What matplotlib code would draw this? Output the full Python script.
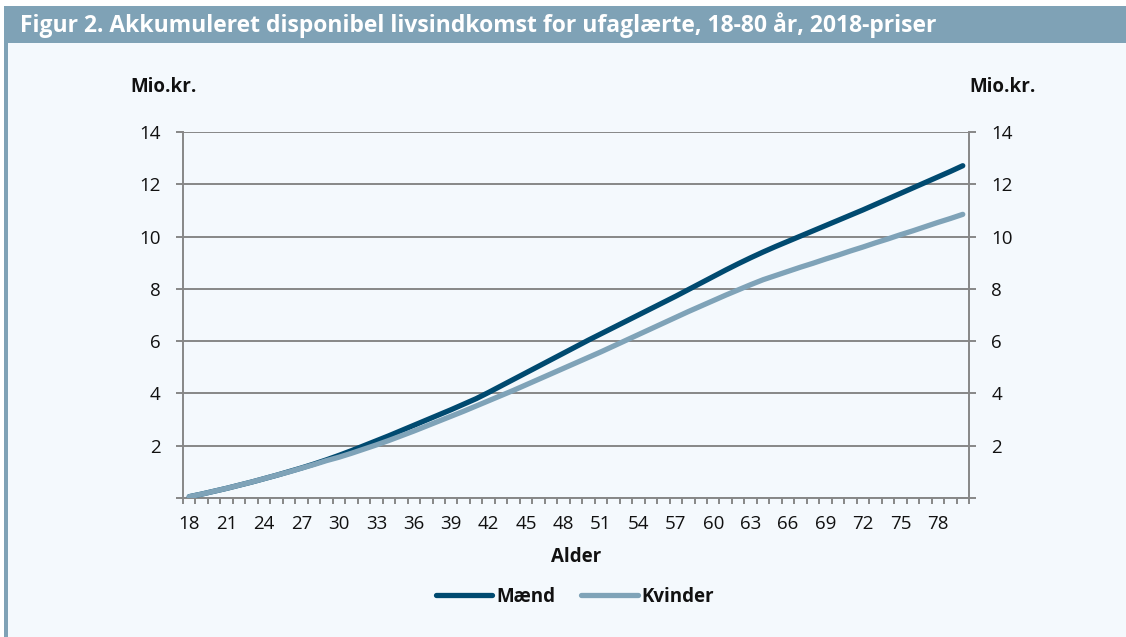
import matplotlib
matplotlib.use("Agg")
import matplotlib.pyplot as plt
from matplotlib.patches import Rectangle
from matplotlib.ticker import FixedLocator, FuncFormatter

plt.rcParams['font.family'] = ['Open Sans', 'DejaVu Sans']

ages = list(range(18, 81))
maend = [0.05, 0.15, 0.26, 0.37, 0.49, 0.61, 0.74, 0.87, 1.01, 1.15,
         1.30, 1.46, 1.63, 1.81, 2.00, 2.19, 2.38, 2.58, 2.78, 2.98,
         3.18, 3.38, 3.59, 3.80, 4.04, 4.29, 4.54, 4.79, 5.04, 5.29,
         5.54, 5.79, 6.04, 6.28, 6.52, 6.76, 7.00, 7.24, 7.48, 7.72,
         7.97, 8.22, 8.47, 8.72, 8.96, 9.19, 9.41, 9.62, 9.82, 10.02,
         10.22, 10.42, 10.62, 10.82, 11.02, 11.23, 11.44, 11.65, 11.86, 12.07,
         12.28, 12.49, 12.71]
kvinder = [0.05, 0.15, 0.26, 0.37, 0.49, 0.61, 0.74, 0.87, 1.00, 1.14,
           1.28, 1.43, 1.56, 1.71, 1.87, 2.03, 2.20, 2.38, 2.56, 2.75,
           2.94, 3.13, 3.32, 3.52, 3.72, 3.92, 4.12, 4.33, 4.54, 4.75,
           4.96, 5.17, 5.38, 5.59, 5.81, 6.03, 6.25, 6.47, 6.69, 6.91,
           7.13, 7.34, 7.55, 7.76, 7.96, 8.16, 8.35, 8.51, 8.67, 8.83,
           8.98, 9.14, 9.29, 9.45, 9.60, 9.76, 9.91, 10.07, 10.22, 10.38,
           10.54, 10.69, 10.85]
series_names = ["Mænd", "Kvinder"]
yticks = [0, 2, 4, 6, 8, 10, 12, 14]
title = "Figur 2. Akkumuleret disponibel livsindkomst for ufaglærte, 18-80 år, 2018-priser"

W, H = 1126, 637
fig = plt.figure(figsize=(W / 100, H / 100), dpi=100, facecolor="white")

bar_col = "#7fa2b6"
panel_col = "#f4f9fd"
grid_col = "#878787"
c_m = "#004a70"
c_k = "#7fa3b8"

def fx(px):
    return px / W

def fy(py):
    return 1 - py / H

# backgrounds
fig.patches.append(Rectangle((fx(8), 0), fx(W - 8), fy(43), transform=fig.transFigure,
                             facecolor=panel_col, edgecolor="none", zorder=-2))
fig.patches.append(Rectangle((fx(4), fy(43)), fx(W - 4), 37 / H, transform=fig.transFigure,
                             facecolor=bar_col, edgecolor="none", zorder=-2))
fig.patches.append(Rectangle((fx(4), 0), fx(4), fy(6), transform=fig.transFigure,
                             facecolor=bar_col, edgecolor="none", zorder=-2))
fig.text(fx(20), fy(25), title, color="white", fontsize=16.5, fontweight="bold",
         ha="left", va="center")

ax = fig.add_axes([fx(183), fy(498), fx(969 - 183), (498 - 132) / H])
ax.set_zorder(2)
ax.set_facecolor(panel_col)

x = list(range(len(ages)))
ax.plot(x, maend, color=c_m, lw=3.8, solid_capstyle="round", label=series_names[0], zorder=3)
ax.plot(x, kvinder, color=c_k, lw=3.8, solid_capstyle="round", label=series_names[1], zorder=4)

ax.set_xlim(-0.5, len(ages) - 0.5)
ax.set_ylim(0, 14)

ax.set_xticks(x[::3])
ax.set_xticklabels([str(a) for a in ages[::3]])
ax.set_xticks([i - 0.5 for i in range(len(ages) + 1)], minor=True)
ax.tick_params(axis="x", which="major", length=0, pad=12, labelsize=13.5, labelcolor="#111111")
ax.tick_params(axis="x", which="minor", length=4.5, width=1.4, color=grid_col, direction="out")

ax.yaxis.set_major_locator(FixedLocator(yticks))
ax.yaxis.set_major_formatter(FuncFormatter(lambda v, p: "" if v == 0 else f"{int(v)}"))
ax.tick_params(axis="y", which="major", length=5, width=1.4, color=grid_col, direction="out",
               left=True, right=True, labelleft=True, labelright=True, pad=11,
               labelsize=13.5, labelcolor="#111111")

ax.grid(axis="y", color=grid_col, lw=1.4, zorder=1)
ax.set_axisbelow(True)
for s in ["left", "right", "bottom", "top"]:
    ax.spines[s].set_color(grid_col)
    ax.spines[s].set_linewidth(1.4)
ax.spines["top"].set_visible(False)

fig.text(fx(164), fy(87), "Mio.kr.", fontsize=13.5, fontweight="bold", ha="center", va="center",
         color="#111111")
fig.text(fx(1003), fy(87), "Mio.kr.", fontsize=13.5, fontweight="bold", ha="center", va="center",
         color="#111111")
fig.text(fx(576), fy(557), "Alder", fontsize=13.5, fontweight="bold", ha="center", va="center",
         color="#111111")

leg = ax.legend(loc="center", bbox_to_anchor=(fx(575), fy(597)), bbox_transform=fig.transFigure,
                ncol=2, frameon=False, handlelength=3.0, handletextpad=0.2, columnspacing=1.4,
                prop={"weight": "bold", "size": 13.5})
for t in leg.get_texts():
    t.set_color("#111111")

fig.savefig("out.png", dpi=100, facecolor="white")
